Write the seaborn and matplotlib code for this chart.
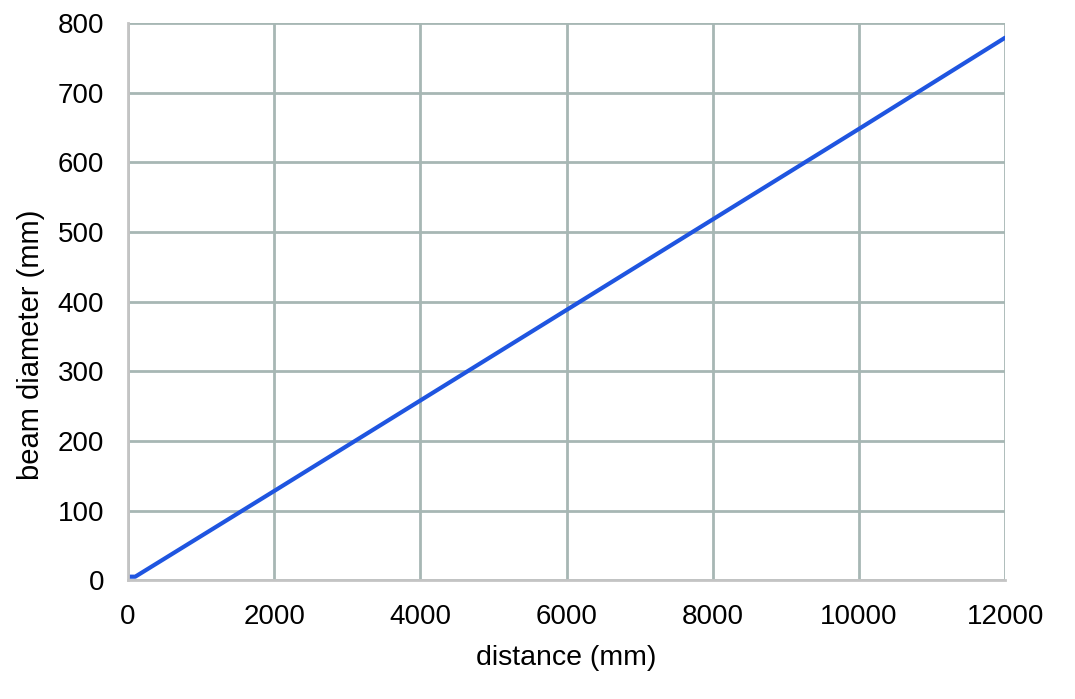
import matplotlib
matplotlib.use("Agg")
import matplotlib.pyplot as plt
import seaborn as sns
import pandas as pd

distance_mm = [0, 100, 2000, 4000, 6000, 8000, 10000, 12000]
beam_diameter_mm = [5, 5, 128, 258, 388, 518, 648, 779]

sns.set_style("white")
plt.rcParams["font.family"] = ["Liberation Sans", "DejaVu Sans"]

df = pd.DataFrame({"distance": distance_mm, "diameter": beam_diameter_mm})

fig = plt.figure(figsize=(10.75, 6.99), dpi=100)
ax = fig.add_axes([0.119, 0.170, 0.816, 0.797])

sns.lineplot(data=df, x="distance", y="diameter", ax=ax, color="#1f55e0", linewidth=3)

ax.set_xlim(0, 12000)
ax.set_ylim(0, 800)
ax.set_xticks(range(0, 12001, 2000))
ax.set_yticks(range(0, 801, 100))
ax.grid(True, color="#a7b7b4", linewidth=2)
ax.set_axisbelow(True)
for side in ["top", "right"]:
    ax.spines[side].set_visible(False)
for side in ["left", "bottom"]:
    ax.spines[side].set_color("#c4c4c4")
    ax.spines[side].set_linewidth(2)
ax.tick_params(axis="x", labelsize=20, length=0, pad=17, labelcolor="black")
ax.tick_params(axis="y", labelsize=20, length=0, pad=17, labelcolor="black")
ax.set_xlabel("distance (mm)", fontsize=20.5, labelpad=11, color="black")
ax.set_ylabel("beam diameter (mm)", fontsize=21, color="black")
ax.yaxis.set_label_coords(-0.0946, 0.422)

fig.savefig("out.png", dpi=100)
